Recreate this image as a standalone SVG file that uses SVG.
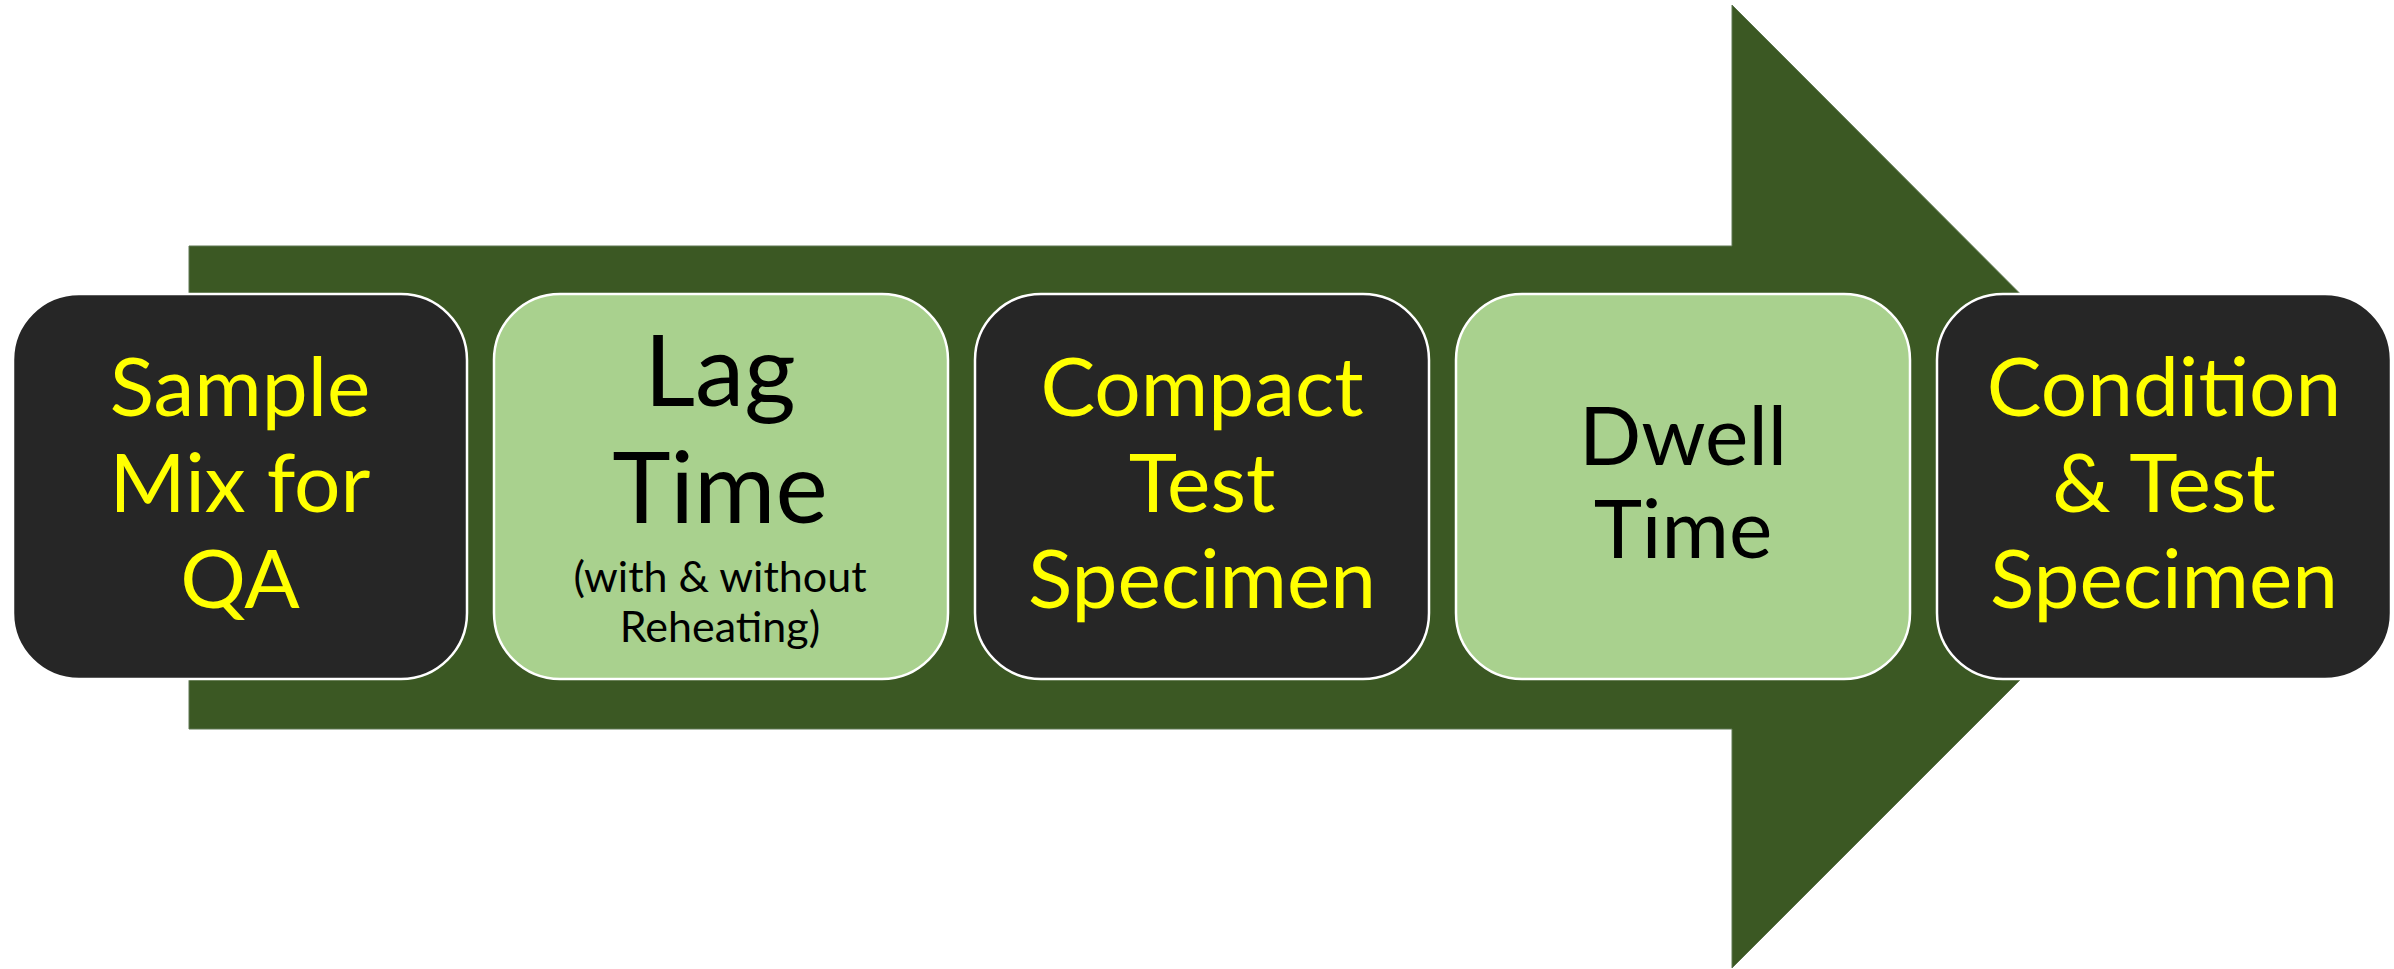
<svg xmlns="http://www.w3.org/2000/svg" width="2394" height="969" viewBox="0 0 2394 969">
  <style>
    .dark { fill: #262626; stroke: #ffffff; stroke-width: 2.5; }
    .light { fill: #a9d18e; stroke: #ffffff; stroke-width: 2.5; }
    .big { font-family: Lato, "Liberation Sans", sans-serif; font-size: 82px; text-anchor: middle; }
    .huge { font-family: Lato, "Liberation Sans", sans-serif; font-size: 99px; text-anchor: middle; }
    .small { font-family: Lato, "Liberation Sans", sans-serif; font-size: 43px; text-anchor: middle; }
    .yel { fill: #ffff00; }
    .blk { fill: #000000; }
  </style>

  <!-- block arrow behind the process steps -->
  <g id="connectors">
    <polygon points="189,246 1732,246 1732,5 2213,487 1732,968 1732,729 189,729" fill="#3b5823" stroke="#5f7752" stroke-width="1"/>
  </g>

  <g id="step-sample-mix">
    <rect class="dark" x="13" y="294" width="454" height="385" rx="66"/>
    <text class="big yel" x="240" y="416">Sample</text>
    <text class="big yel" x="240" y="512">Mix for</text>
    <text class="big yel" x="240" y="608">QA</text>
  </g>

  <g id="step-lag-time">
    <rect class="light" x="494" y="294" width="454" height="385" rx="66"/>
    <text class="huge blk" x="720" y="406">Lag</text>
    <text class="huge blk" x="720" y="523">Time</text>
    <text class="small blk" x="720" y="592">(with &amp; without</text>
    <text class="small blk" x="720" y="642">Reheating)</text>
  </g>

  <g id="step-compact">
    <rect class="dark" x="975" y="294" width="454" height="385" rx="66"/>
    <text class="big yel" x="1202" y="416">Compact</text>
    <text class="big yel" x="1202" y="512">Test</text>
    <text class="big yel" x="1202" y="608">Specimen</text>
  </g>

  <g id="step-dwell-time">
    <rect class="light" x="1456" y="294" width="454" height="385" rx="66"/>
    <text class="big blk" x="1683" y="465">Dwell</text>
    <text class="big blk" x="1683" y="558">Time</text>
  </g>

  <g id="step-condition-test">
    <rect class="dark" x="1937" y="294" width="454" height="385" rx="66"/>
    <text class="big yel" x="2164" y="416">Condition</text>
    <text class="big yel" x="2164" y="512">&amp; Test</text>
    <text class="big yel" x="2164" y="608">Specimen</text>
  </g>
</svg>
